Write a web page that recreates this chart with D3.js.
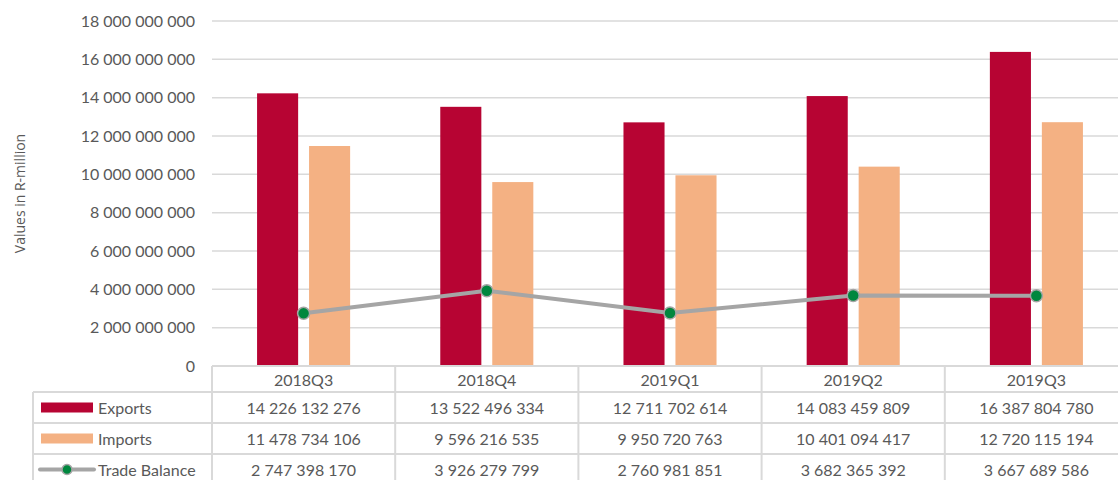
<!DOCTYPE html>
<html>
<head>
<meta charset="utf-8">
<script src="https://cdn.jsdelivr.net/npm/d3@7"></script>
<style>
  html, body { margin: 0; padding: 0; background: #fff; overflow: hidden; }
  svg { display: block; }
</style>
</head>
<body>
<svg id="chart" width="1118" height="480"></svg>
<script>
// Quarterly trade figures (values in R-million)
const quarters = ["2018Q3", "2018Q4", "2019Q1", "2019Q2", "2019Q3"];
const exportsVals = [14226132276, 13522496334, 12711702614, 14083459809, 16387804780];
const importsVals = [11478734106, 9596216535, 9950720763, 10401094417, 12720115194];
const balanceVals = [2747398170, 3926279799, 2760981851, 3682365392, 3667689586];
const yTicks = [0, 2e9, 4e9, 6e9, 8e9, 10e9, 12e9, 14e9, 16e9, 18e9];
const seriesNames = ["Exports", "Imports", "Trade Balance"];

const colors = { Exports: "#b70433", Imports: "#f4b183", line: "#a5a5a5", dot: "#00873e" };
const textColor = "#595959";
const gridColor = "#d9d9d9";
const font = "Lato, 'Open Sans', sans-serif";

const svg = d3.select("#chart");
const W = 1118;
// the plot area runs slightly past the right edge of the canvas
const plot = { left: 212, right: 1128, top: 21, bottom: 366 };
const tableLeft = 33;
const rowEdges = [366, 392, 423, 454, 485];

const x = d3.scaleBand().domain(quarters).range([plot.left, plot.right]).padding(0);
const xs = d3.scaleBand().domain(["Exports", "Imports"]).range([0, x.bandwidth()])
  .paddingInner(0.21).paddingOuter(0.867);
const y = d3.scaleLinear().domain([0, 18e9]).range([plot.bottom, plot.top]);
const fmt = v => d3.format(",")(v).replace(/,/g, " ");

// horizontal gridlines
svg.append("g").selectAll("line").data(yTicks.filter(t => t > 0)).join("line")
  .attr("x1", plot.left).attr("x2", plot.right)
  .attr("y1", d => y(d)).attr("y2", d => y(d))
  .attr("stroke", gridColor).attr("stroke-width", 1.5);

// y axis labels
const yAxis = svg.append("g").attr("transform", `translate(${plot.left - 17},0)`)
  .call(d3.axisLeft(y).tickValues(yTicks).tickFormat(fmt).tickSize(0).tickPadding(0));
yAxis.select(".domain").remove();
yAxis.selectAll("text").attr("fill", textColor).style("font-family", font).style("font-size", "16px");

// y axis title
svg.append("text")
  .attr("transform", `translate(25,${(plot.top + plot.bottom) / 2}) rotate(-90)`)
  .attr("text-anchor", "middle")
  .attr("fill", textColor)
  .style("font-family", "'Open Sans', sans-serif").style("font-size", "14px")
  .text("Values in R-million");

// bars
const barData = quarters.flatMap((q, i) => [
  { q, s: "Exports", v: exportsVals[i] },
  { q, s: "Imports", v: importsVals[i] }
]);
svg.append("g").selectAll("rect").data(barData).join("rect")
  .attr("x", d => x(d.q) + xs(d.s))
  .attr("width", xs.bandwidth())
  .attr("y", d => y(d.v))
  .attr("height", d => y(0) - y(d.v))
  .attr("fill", d => colors[d.s]);

// trade balance line
const cx = q => x(q) + x.bandwidth() / 2;
svg.append("path")
  .datum(balanceVals)
  .attr("fill", "none").attr("stroke", colors.line).attr("stroke-width", 4)
  .attr("stroke-linejoin", "round")
  .attr("d", d3.line().x((d, i) => cx(quarters[i])).y(d => y(d)));
svg.append("g").selectAll("circle").data(balanceVals).join("circle")
  .attr("cx", (d, i) => cx(quarters[i])).attr("cy", d => y(d)).attr("r", 6)
  .attr("fill", colors.dot).attr("stroke", colors.line).attr("stroke-width", 1.5);

// data table
const tbl = svg.append("g");
// horizontal table lines
tbl.append("line").attr("x1", plot.left).attr("x2", plot.right).attr("y1", rowEdges[0]).attr("y2", rowEdges[0])
  .attr("stroke", gridColor).attr("stroke-width", 2);
tbl.selectAll("line.h").data(rowEdges.slice(1)).join("line").attr("class", "h")
  .attr("x1", tableLeft).attr("x2", plot.right).attr("y1", d => d).attr("y2", d => d)
  .attr("stroke", gridColor).attr("stroke-width", 2);
// vertical table lines
tbl.append("line").attr("x1", tableLeft).attr("x2", tableLeft).attr("y1", rowEdges[1]).attr("y2", 480)
  .attr("stroke", gridColor).attr("stroke-width", 2);
tbl.selectAll("line.v").data(quarters).join("line").attr("class", "v")
  .attr("x1", d => x(d)).attr("x2", d => x(d)).attr("y1", rowEdges[0]).attr("y2", 480)
  .attr("stroke", gridColor).attr("stroke-width", 2);

const rowMid = i => (rowEdges[i] + rowEdges[i + 1]) / 2;
const tText = (sel) => sel.attr("fill", textColor).style("font-family", font).style("font-size", "16px")
  .attr("dominant-baseline", "central");

// header row
tbl.selectAll("text.hdr").data(quarters).join("text").attr("class", "hdr")
  .attr("x", d => cx(d)).attr("y", rowMid(0)).attr("text-anchor", "middle")
  .call(tText).text(d => d);

// value rows
const rows = [exportsVals, importsVals, balanceVals];
rows.forEach((vals, r) => {
  tbl.selectAll(`text.r${r}`).data(vals).join("text").attr("class", `r${r}`)
    .attr("x", (d, i) => cx(quarters[i])).attr("y", rowMid(r + 1)).attr("text-anchor", "middle")
    .call(tText).text(d => fmt(d));
});

// row legend keys
seriesNames.forEach((name, r) => {
  const my = rowMid(r + 1);
  if (r < 2) {
    tbl.append("rect").attr("x", 41).attr("y", my - 5).attr("width", 52).attr("height", 10)
      .attr("fill", colors[name]);
  } else {
    tbl.append("line").attr("x1", 40).attr("x2", 94).attr("y1", my).attr("y2", my)
      .attr("stroke", colors.line).attr("stroke-width", 4).attr("stroke-linecap", "round");
    tbl.append("circle").attr("cx", 67).attr("cy", my).attr("r", 5)
      .attr("fill", colors.dot).attr("stroke", colors.line).attr("stroke-width", 1.5);
  }
  tbl.append("text").attr("x", 98).attr("y", my).call(tText).text(name);
});
</script>
</body>
</html>
